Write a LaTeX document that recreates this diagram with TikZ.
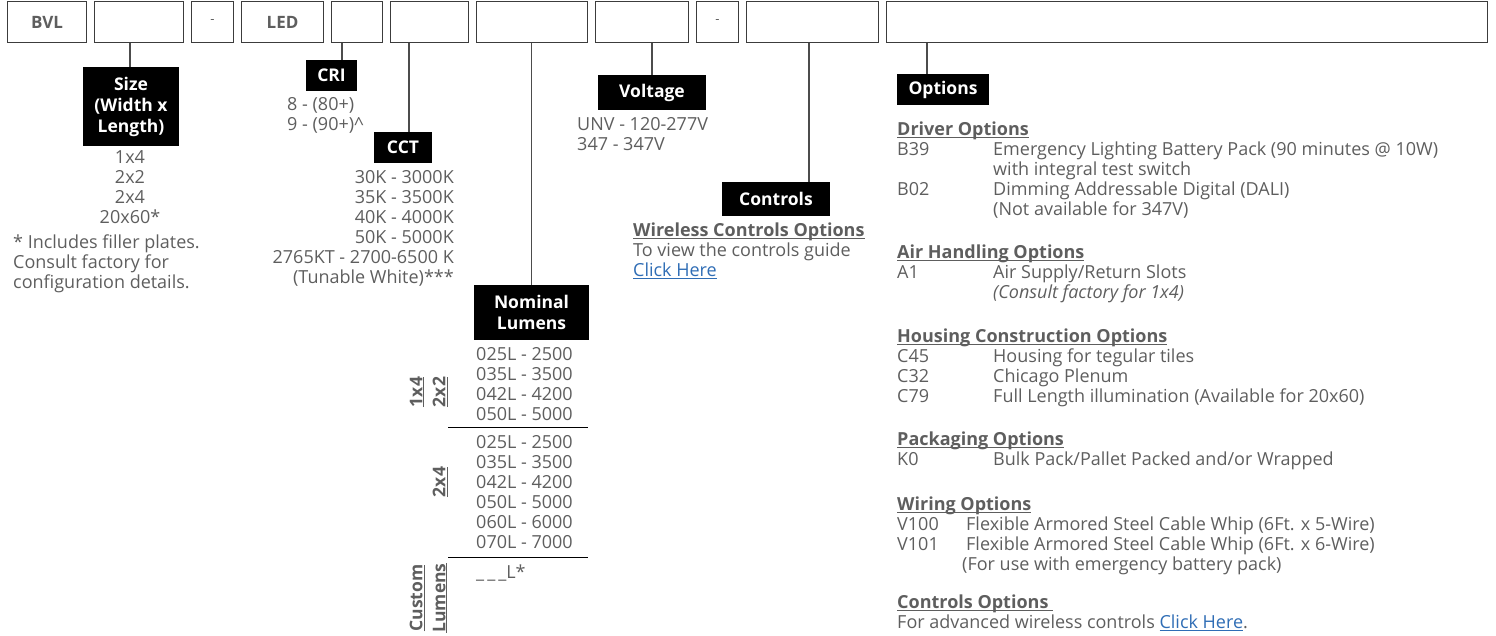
\documentclass[tikz,border=0pt]{standalone}
\usepackage{fontspec}
\setmainfont{Open Sans}
\usetikzlibrary{positioning}

\definecolor{txtgray}{HTML}{5E5E5E}
\definecolor{linkblue}{HTML}{2F6DB5}
\definecolor{framegray}{HTML}{3C3C3C}

\newcommand{\flatline}[1]{\underline{\raisebox{0pt}[\height][0pt]{#1}}}
\newcommand{\opthead}[1]{\textbf{\flatline{#1}}}
\newcommand{\clicklink}[1]{\textcolor{linkblue}{\flatline{#1}}}
\newcommand{\codecol}[1]{\makebox[96pt][l]{#1}}
\newcommand{\wirecol}[1]{\makebox[69pt][l]{#1}}

\begin{document}
\begin{tikzpicture}[
    x=1pt, y=-1pt,
    node distance=6.6pt,
    codebox/.style={rectangle, draw=framegray, line width=1.4pt, minimum height=41pt, inner sep=0pt, text=txtgray, font=\fontsize{17}{20}\selectfont\bfseries},
    tagbox/.style={rectangle, fill=black, text=white, inner sep=0pt, align=center, font=\fontsize{17.5}{21}\selectfont\bfseries},
    list/.style={inner sep=0pt, text=txtgray, font=\fontsize{18}{20}\selectfont},
    sidetag/.style={inner sep=0pt, text=txtgray, rotate=90, font=\fontsize{17.5}{20}\selectfont\bfseries},
    leader/.style={draw=black!70, line width=1.4pt},
    rule/.style={draw=black, line width=1pt}
]
\useasboundingbox (0,0) rectangle (1496,636);

% Code boxes
\node[codebox, minimum width=79] (bvl) at (47,22) {BVL};
\node[codebox, minimum width=89, right=of bvl] (sizebox) {};
\node[codebox, minimum width=42, right=of sizebox] (dashA) {\mdseries\fontsize{13}{14}\selectfont -};
\node[codebox, minimum width=82, right=of dashA] (led) {LED};
\node[codebox, minimum width=51, right=of led] (cribox) {};
\node[codebox, minimum width=78, right=of cribox] (cctbox) {};
\node[codebox, minimum width=111, right=of cctbox] (lumbox) {};
\node[codebox, minimum width=93, right=of lumbox] (voltbox) {};
\node[codebox, minimum width=42, right=of voltbox] (dashB) {\mdseries\fontsize{13}{14}\selectfont -};
\node[codebox, minimum width=132, right=of dashB] (ctrlbox) {};
\node[codebox, minimum width=601, right=of ctrlbox] (optbox) {};

% Labels
\node[tagbox, minimum width=96, minimum height=79] (size) at (131,106.5) {Size\\(Width x\\Length)};
\node[tagbox, minimum width=51, minimum height=31] (cri) at (331.5,75.5) {CRI};
\node[tagbox, minimum width=58, minimum height=31] (cct) at (403,147.5) {CCT};
\node[tagbox, minimum width=115, minimum height=55] (nominal) at (531.5,312.5) {Nominal\\Lumens};
\node[tagbox, minimum width=108, minimum height=35] (voltage) at (652,92.5) {Voltage};
\node[tagbox, minimum width=108, minimum height=34] (controls) at (776,199) {Controls};
\node[tagbox, minimum width=92, minimum height=31] (options) at (943,89.5) {Options};

% Leaders
\coordinate (size top) at ([xshift=-1pt]size.north);
\coordinate (cri top) at ([xshift=10.5pt]cri.north);
\coordinate (cct top) at ([xshift=6pt]cct.north);
\coordinate (ctrl top) at ([xshift=33pt]controls.north);
\coordinate (opt top) at ([xshift=-16pt]options.north);
\draw[leader] (size top) -- (size top |- sizebox.south);
\draw[leader] (cri top) -- (cri top |- cribox.south);
\draw[leader] (cct top) -- (cct top |- cctbox.south);
\draw[leader] (nominal.north) -- (nominal.north |- lumbox.south);
\draw[leader] (voltage.north) -- (voltage.north |- voltbox.south);
\draw[leader] (ctrl top) -- (ctrl top |- ctrlbox.south);
\draw[leader] (opt top) -- (opt top |- optbox.south);

% Size
\node[list, anchor=north, align=center] (sizelist) at (130,150) {1x4\\2x2\\2x4\\20x60*};
\node[list, anchor=north west, align=left] (sizenote) at (13,235) {* Includes filler plates.\\Consult factory for\\configuration details.};

% CRI and CCT
\node[list, anchor=north west, align=left] (crilist) at (287,97) {8 - (80+)\\9 - (90+)\textasciicircum};
\node[list, anchor=north east, align=right] (cctlist) at (454,170) {30K - 3000K\\35K - 3500K\\40K - 4000K\\50K - 5000K\\2765KT - 2700-6500 K\\(Tunable White)***};

% Nominal lumens
\node[list, anchor=north west, align=left] (lumA) at (476,347) {025L - 2500\\035L - 3500\\042L - 4200\\050L - 5000};
\node[list, anchor=north west, align=left] (lumB) at (476,435) {025L - 2500\\035L - 3500\\042L - 4200\\050L - 5000\\060L - 6000\\070L - 7000};
\node[list, anchor=north west, align=left] (lumC) at (476,565) {\_\,\_\,\_L*};
\draw[rule] (448,427) -- (588,427);
\draw[rule] (448,557) -- (588,557);
\node[sidetag] (size14) at (417,392) {\flatline{1x4}};
\node[sidetag] (size22) at (440,392) {\flatline{2x2}};
\node[sidetag] (size24) at (440,482) {\flatline{2x4}};
\node[sidetag] (custom) at (417,598) {\flatline{Custom}};
\node[sidetag] (customlm) at (440,598) {\flatline{Lumens}};

% Voltage and controls
\node[list, anchor=north west, align=left] (voltlist) at (577,117) {UNV - 120-277V\\347 - 347V};
\node[list, anchor=north west, align=left] (ctrltext) at (633,223) {\opthead{Wireless Controls Options}\\To view the controls guide\\\clicklink{Click Here}};

% Options
\node[list, anchor=north west, align=left] (driver) at (897,122) {\opthead{Driver Options}\\
    \codecol{B39}Emergency Lighting Battery Pack (90 minutes @ 10W)\\
    \hspace*{96pt}with integral test switch\\
    \codecol{B02}Dimming Addressable Digital (DALI)\\
    \hspace*{96pt}(Not available for 347V)};
\node[list, anchor=north west, align=left] (air) at (897,245) {\opthead{Air Handling Options}\\
    \codecol{A1}Air Supply/Return Slots\\
    \hspace*{96pt}\textit{(Consult factory for 1x4)}};
\node[list, anchor=north west, align=left] (housing) at (897,329) {\opthead{Housing Construction Options}\\
    \codecol{C45}Housing for tegular tiles\\
    \codecol{C32}Chicago Plenum\\
    \codecol{C79}Full Length illumination (Available for 20x60)};
\node[list, anchor=north west, align=left] (packaging) at (897,432) {\opthead{Packaging Options}\\
    \codecol{K0}Bulk Pack/Pallet Packed and/or Wrapped};
\node[list, anchor=north west, align=left] (wiring) at (897,497) {\opthead{Wiring Options}\\
    \wirecol{V100}Flexible Armored Steel Cable Whip (6Ft. x 5-Wire)\\
    \wirecol{V101}Flexible Armored Steel Cable Whip (6Ft. x 6-Wire)\\
    \hspace*{65pt}(For use with emergency battery pack)};
\node[list, anchor=north west, align=left] (ctrlopts) at (897,595) {\opthead{Controls Options\ }\\
    For advanced wireless controls \clicklink{Click Here}.};

\end{tikzpicture}
\end{document}
